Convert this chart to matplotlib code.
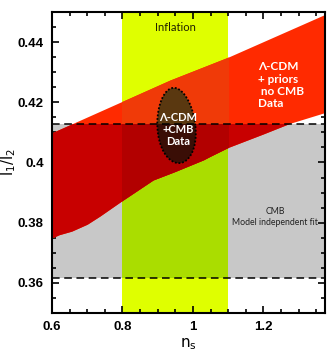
import numpy as np
import matplotlib
matplotlib.use("Agg")
import matplotlib.pyplot as plt
from matplotlib.patches import Rectangle, Polygon
from matplotlib.ticker import MultipleLocator

# ---------------- data ----------------
# Lambda-CDM + priors band (no CMB)
band_x_lower = [0.60, 0.605, 0.62, 0.656, 0.70, 0.736, 0.80, 0.887, 0.949, 1.03, 1.048, 1.10, 1.20, 1.275, 1.375]
band_y_lower = [0.375, 0.3752, 0.3760, 0.3772, 0.3795, 0.3822, 0.3874, 0.3942, 0.3970, 0.4009, 0.4020, 0.4050, 0.4095, 0.4130, 0.4166]
band_x_upper = [0.60, 0.935, 1.10, 1.375]
band_y_upper = [0.4099, 0.4274, 0.4350, 0.4492]

# Inflation band in n_s
inflation_ns = [0.8, 1.1]
# CMB model independent fit on l1/l2
cmb_range = [0.3617, 0.4129]
# Lambda-CDM + CMB ellipse (center, full width, full height)
ell_center = [0.953, 0.4123]
ell_width = 0.108
ell_height = 0.0250

x_limits = [0.6, 1.375]
y_limits = [0.35, 0.45]
x_ticks = [0.6, 0.8, 1.0, 1.2]
x_ticklabels = ["0.6", "0.8", "1", "1.2"]
y_ticks = [0.36, 0.38, 0.40, 0.42, 0.44]
y_ticklabels = ["0.36", "0.38", "0.4", "0.42", "0.44"]

# ---------------- colours ----------------
C_Y = "#dfff00"
C_G = "#c8c8c8"
C_YG = "#aadd00"
C_R = "#ff2a00"
C_RY = "#f03a08"
C_RG = "#c80000"
C_RYG = "#b20000"
C_E = "#5a3810"
C_EG = "#3a0e06"

fig = plt.figure(figsize=(3.35, 3.54), dpi=100)
ax = fig.add_axes([52/335, 1-313/354, (325-52)/335, (313-12)/354])
ax.set_xlim(*x_limits)
ax.set_ylim(*y_limits)

# background regions
ax.axvspan(inflation_ns[0], inflation_ns[1], color=C_Y, lw=0, zorder=1)
ax.axhspan(cmb_range[0], cmb_range[1], color=C_G, lw=0, zorder=1.1)
ax.add_patch(Rectangle((inflation_ns[0], cmb_range[0]), inflation_ns[1]-inflation_ns[0],
                       cmb_range[1]-cmb_range[0], color=C_YG, lw=0, zorder=1.2))

# clip regions
def rect(x0, x1, y0, y1):
    return Rectangle((x0, y0), x1-x0, y1-y0, transform=ax.transData)

clip_Y = lambda: rect(inflation_ns[0], inflation_ns[1], -1, 1)
clip_G = lambda: rect(-5, 5, cmb_range[0], cmb_range[1])
clip_YG = lambda: rect(inflation_ns[0], inflation_ns[1], cmb_range[0], cmb_range[1])

xs = np.linspace(x_limits[0], x_limits[1], 300)
lo = np.interp(xs, band_x_lower, band_y_lower)
hi = np.interp(xs, band_x_upper, band_y_upper)

for col, clip, z in [(C_R, None, 2), (C_RY, clip_Y, 2.1), (C_RG, clip_G, 2.2), (C_RYG, clip_YG, 2.3)]:
    pc = ax.fill_between(xs, lo, hi, color=col, lw=0, zorder=z)
    if clip is not None:
        pc.set_clip_path(clip())

# ellipse (slightly tilted egg shape)
t = np.linspace(0, 2*np.pi, 200)
a = ell_width/2
b = ell_height/2
ex = ell_center[0] + a*np.cos(t)*(1 - 0.08*np.sin(t)) - 0.007*np.sin(t)
ey = ell_center[1] + b*np.sin(t)
pts = np.column_stack([ex, ey])
ax.add_patch(Polygon(pts, closed=True, color=C_E, lw=0, zorder=3))
pe = Polygon(pts, closed=True, color=C_EG, lw=0, zorder=3.1)
ax.add_patch(pe)
pe.set_clip_path(clip_G())
ax.plot(np.append(ex, ex[0]), np.append(ey, ey[0]), color="black", lw=1.3,
        linestyle=(0, (1, 1)), zorder=3.2)

# dashed limits
for yv in cmb_range:
    ax.axhline(yv, color="black", lw=1.1, linestyle=(0, (5, 3)), zorder=4)

# texts
ax.text(0.95, 0.4449, "Inflation", ha="center", va="center", fontsize=8,
        family="Lato", color="#202000", zorder=5)
ax.text(1.184, 0.4256, "Λ-CDM\n+ priors\n no CMB\nData", ha="left", va="center",
        fontsize=8.5, family="Lato", weight="bold", color="white",
        linespacing=1.15, zorder=5)
ax.text(ell_center[0]+0.004, 0.4110, "Λ-CDM\n+CMB\nData", ha="center", va="center",
        fontsize=8, family="Lato", weight="bold", color="white",
        linespacing=1.1, zorder=5)
ax.text(1.233, 0.3819, "CMB\nModel independent fit", ha="center", va="center",
        fontsize=6.3, family="Lato", color="#222222", linespacing=1.35, zorder=5)

# axes styling
ax.set_xticks(x_ticks)
ax.set_xticklabels(x_ticklabels)
ax.set_yticks(y_ticks)
ax.set_yticklabels(y_ticklabels)
ax.xaxis.set_minor_locator(MultipleLocator(0.05))
ax.yaxis.set_minor_locator(MultipleLocator(0.005))
ax.tick_params(which="both", direction="in", top=True, right=True, width=1.2, zorder=6)
ax.tick_params(which="major", length=5, pad=6)
ax.tick_params(which="minor", length=3)
for lab in ax.get_xticklabels() + ax.get_yticklabels():
    lab.set_family("Liberation Sans")
    lab.set_weight("bold")
    lab.set_fontsize(9.5)
for s in ax.spines.values():
    s.set_linewidth(1.5)
    s.set_zorder(6)

matplotlib.rcParams["mathtext.fontset"] = "stix"
ax.set_xlabel(r"$\mathrm{n_s}$", fontsize=11, labelpad=2)
ax.set_ylabel(r"$\mathrm{l_1/l_2}$", fontsize=10.5, labelpad=1)
ax.yaxis.set_label_coords(-0.125, 0.5)

fig.savefig("out.png", dpi=100)
